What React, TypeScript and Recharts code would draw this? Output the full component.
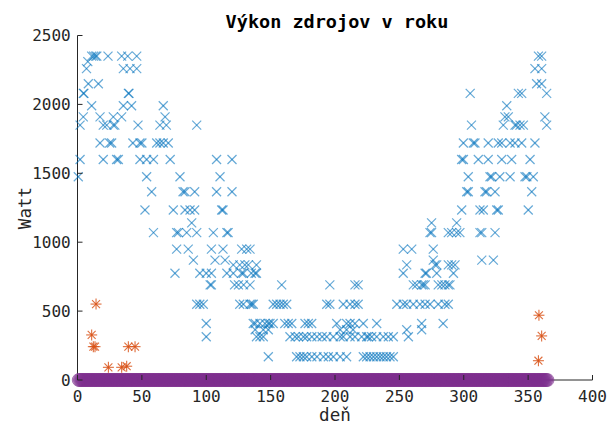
import React from 'react';
import { ScatterChart, Scatter, XAxis, YAxis } from 'recharts';

// ---- tick labels ----
const xTicks = [0, 50, 100, 150, 200, 250, 300, 350, 400];
const yTicks = [0, 500, 1000, 1500, 2000, 2500];

// ---- blue series: [day, watt] ----
const blueWinterStart: [number, number][] = [
  [0.6, 1475], [2, 1600], [2, 1850], [4.5, 1910], [4.5, 2080], [5, 2080], [7, 2260], [8, 2310],
  [8.4, 2150], [11, 1990], [11, 2350], [12.5, 2350], [14, 2350], [15, 2350], [16.2, 2150],
  [17.5, 1910], [17.5, 1720], [20, 1850], [20, 1600], [22.7, 1850], [23.7, 2350], [25, 1720],
  [26.5, 1720], [27.8, 1910], [27.8, 1850], [29, 1850], [30.4, 1600], [31.7, 1600], [34.3, 2350],
  [34.3, 1910], [35.6, 2260], [35.6, 1990], [39, 2350], [39.5, 2080], [40, 2080], [40.8, 2260],
  [42, 1990], [43, 1720], [46, 2350], [46, 2260], [47, 1850], [48.5, 1720], [48.5, 1600],
  [50, 1720], [52.4, 1234], [53.7, 1600], [53.7, 1475], [57.6, 1366], [59, 1600], [59, 1070],
  [61.5, 1720], [64, 1850], [64, 1720], [66.6, 1990], [66.6, 1720], [68, 1910], [69, 1850],
  [70.5, 1720], [72, 1600],
];

const blueSpring: [number, number][] = [
  [74.4, 1234], [75.7, 775], [77, 1070], [77, 950], [78.3, 1070], [79.6, 1475], [82, 1366],
  [83.5, 1366], [83.5, 1234], [84.8, 1070], [86, 950], [87.4, 1234], [88.7, 1140], [90, 870],
  [91, 1366], [91, 1234], [92.6, 1850], [92.6, 1070], [92.6, 550], [95, 775], [95, 550],
  [97.7, 550], [100, 775], [100, 410], [100, 314], [103, 690], [104, 950], [104, 775], [104, 690],
  [105.5, 1070], [106.8, 870], [108, 1600], [108, 1366], [110.7, 1475], [112, 1234], [113, 1234],
  [113, 950], [114.6, 870], [116, 1070], [116, 775], [117, 1070], [120, 1600], [120, 1366],
  [121, 835], [121, 775], [122, 690], [125, 690], [126, 835], [126, 550], [127.5, 950],
  [127.5, 775], [128.8, 775], [128.8, 550], [129, 690], [130, 835], [131.4, 950], [132.7, 835],
  [134, 950], [134, 690], [134, 550], [135, 775], [135.3, 550], [136.5, 550], [136.5, 410],
  [137.9, 775], [138, 410], [138, 365], [139, 835], [139, 775], [139, 314],
];

const blueSummer: [number, number][] = [
  [141.7, 410], [141.7, 314], [144.3, 314], [144.3, 365], [145.6, 410], [148.2, 410], [148.2, 365],
  [148.2, 169], [149.5, 410], [152, 550], [152, 410], [154.7, 550], [157.3, 550], [158.6, 690],
  [159.8, 550], [161, 410], [162.5, 550], [163.7, 410], [165, 314], [166.4, 410], [169, 314],
  [170.2, 169], [171.6, 314], [172.8, 169], [175.4, 169], [175.5, 314], [176.7, 410], [178, 314],
  [178, 169], [179.3, 410], [181.9, 410], [182, 314], [182, 169], [186, 314], [186, 169],
  [190, 314], [191, 169], [193.6, 550], [193.6, 314], [194.8, 169], [196, 690], [196, 550],
  [198.7, 314], [198.7, 169], [201.3, 410], [204, 365], [204, 314], [204, 169], [206.4, 550],
  [206.4, 314], [209, 410], [209, 365], [209, 169], [211.7, 550], [211.7, 410], [211.7, 314],
  [214, 365], [215.5, 690], [215.5, 550], [215.5, 410], [215.5, 314], [218, 690], [218, 550],
  [220.7, 314], [222, 410], [222, 169], [224.6, 314], [224.6, 169], [225.8, 314], [227.2, 169],
  [228.5, 314], [229.8, 169], [232.4, 410], [232.4, 314], [232.4, 169], [235, 169], [237.5, 314],
  [237.5, 169], [240, 169], [241.4, 314], [242.7, 169], [245.3, 314], [245.3, 169], [248, 550],
  [253, 950], [253, 775], [253, 550], [255.7, 835], [255.7, 550], [255.7, 365], [257, 314],
  [259.6, 950], [260.8, 690], [260.8, 550], [263.4, 690], [266, 550], [267.3, 410], [267.3, 365],
  [267.3, 690],
];

const blueAutumn: [number, number][] = [
  [268.6, 690], [270, 690], [270, 775], [270, 550], [271, 775], [273.8, 1070], [273.8, 550],
  [275, 1140], [275, 1070], [276.3, 950], [276.3, 870], [277.7, 835], [279, 835], [279, 775],
  [280.2, 690], [280.2, 550], [283, 690], [284, 410], [285.4, 690], [285.4, 550], [288, 1070],
  [288, 835], [288, 690], [288, 550], [289.3, 690], [290.6, 1070], [290.6, 835], [292, 775],
  [293.2, 835], [294.5, 1140], [294.5, 1070], [297, 1070], [298.4, 1600], [298.4, 1234],
  [299.7, 1720], [299.7, 1600], [302.3, 1366], [303.5, 1475], [303.5, 1366], [305, 2080],
  [306, 1850], [307.4, 1720], [308.7, 1720], [311.3, 1600], [312.6, 1234], [312.6, 1070],
  [314, 1070], [314, 870], [315.2, 1234], [316.5, 1366], [317.8, 1366], [319, 1720], [319, 1600],
  [320.4, 1475], [321.7, 1475], [323, 870], [324.3, 1366], [324.3, 1070], [325.6, 1234],
  [326.8, 1720], [326.8, 1234], [328, 1475], [329.5, 1720], [329.5, 1600], [330.7, 1850],
  [332, 1910], [333.4, 1990], [334.6, 1910], [336, 1720], [336, 1475], [337.2, 1600],
  [339.8, 1850], [339.8, 1720], [341, 1850], [342.4, 2080], [343.7, 1850], [345, 2080],
  [345, 1720], [346.3, 1850], [347.6, 1475], [349, 1475], [350.1, 1234], [351.5, 1600],
  [352.8, 1366], [354, 1475], [355.3, 2260], [355.3, 1720], [356.6, 2150], [358, 2350],
  [360.5, 2350], [360.5, 2260], [360.5, 2150], [363, 1910], [364.4, 2080], [364.4, 1850],
];

// ---- orange series: [day, watt] ----
const orangePoints: [number, number][] = [
  [14.4, 551], [11, 327], [12.3, 242], [13.6, 242], [24, 92], [34.3, 92], [38.2, 100],
  [39.5, 242], [44.7, 242], [358.4, 470], [360.5, 320], [358, 140],
];

// ---- purple series: every day of the year at 0 W ----
const yearDays: number[] = Array.from({ length: 365 }, (_, i) => i + 1);
const zeroWatt = 0;

const FONT = '"DejaVu Sans Mono", monospace';
const AXIS = '#262626';

const toPoints = (pairs: [number, number][]) => pairs.map(([day, watt]) => ({ day, watt }));

const blueData = toPoints([...blueWinterStart, ...blueSpring, ...blueSummer, ...blueAutumn]);
const orangeData = toPoints(orangePoints);
const purpleData = yearDays.map((day) => ({ day, watt: zeroWatt }));

const XMark = (props: any) => {
  const { cx, cy } = props;
  const r = 4.5;
  return (
    <g stroke="#0072BD" strokeOpacity={0.6} strokeWidth={1.2}>
      <line x1={cx - r} y1={cy - r} x2={cx + r} y2={cy + r} />
      <line x1={cx - r} y1={cy + r} x2={cx + r} y2={cy - r} />
    </g>
  );
};

const Asterisk = (props: any) => {
  const { cx, cy } = props;
  const r = 5.5;
  const d = r * 0.72;
  return (
    <g stroke="#D95319" strokeOpacity={0.85} strokeWidth={1.1}>
      <line x1={cx - r} y1={cy} x2={cx + r} y2={cy} />
      <line x1={cx} y1={cy - r} x2={cx} y2={cy + r} />
      <line x1={cx - d} y1={cy - d} x2={cx + d} y2={cy + d} />
      <line x1={cx - d} y1={cy + d} x2={cx + d} y2={cy - d} />
    </g>
  );
};

const Circle = (props: any) => {
  const { cx, cy } = props;
  return (
    <circle cx={cx} cy={cy} r={6.5} fill="#7E2F8E" fillOpacity={0.4} stroke="#7E2F8E" strokeOpacity={0.6} strokeWidth={1} />
  );
};

const XTick = (props: any) => {
  const { x, y, payload } = props;
  return (
    <g>
      <line x1={x} y1={y} x2={x} y2={y - 5} stroke={AXIS} strokeWidth={1} />
      <text x={x} y={y + 21.5} textAnchor="middle" fontFamily={FONT} fontSize={16} fill={AXIS}>
        {payload.value}
      </text>
    </g>
  );
};

const YTick = (props: any) => {
  const { x, y, payload } = props;
  return (
    <g>
      <line x1={x} y1={y} x2={x + 5} y2={y} stroke={AXIS} strokeWidth={1} />
      <text x={x - 6.8} y={y + 5.8} textAnchor="end" fontFamily={FONT} fontSize={16} fill={AXIS}>
        {payload.value}
      </text>
    </g>
  );
};

export default function App() {
  return (
    <div style={{ position: 'absolute', left: 0, top: 0, width: 607, height: 425, background: '#fff' }}>
      <ScatterChart width={607} height={425} margin={{ top: 35.5, right: 14.5, bottom: 0, left: 0 }}>
        <XAxis
          type="number"
          dataKey="day"
          domain={[0, 400]}
          ticks={xTicks}
          interval={0}
          height={45}
          tickSize={0}
          tickMargin={0}
          tick={<XTick />}
          axisLine={{ stroke: AXIS, strokeWidth: 1 }}
          tickLine={false}
        />
        <YAxis
          type="number"
          dataKey="watt"
          domain={[0, 2500]}
          ticks={yTicks}
          interval={0}
          width={77.5}
          tickSize={0}
          tickMargin={0}
          tick={<YTick />}
          axisLine={{ stroke: AXIS, strokeWidth: 1 }}
          tickLine={false}
        />
        <Scatter data={blueData} shape={XMark} isAnimationActive={false} />
        <Scatter data={orangeData} shape={Asterisk} isAnimationActive={false} />
        <Scatter data={purpleData} shape={Circle} isAnimationActive={false} />
      </ScatterChart>
      <svg
        width={607}
        height={425}
        style={{ position: 'absolute', left: 0, top: 0, pointerEvents: 'none' }}
      >
        <text x={337} y={28.3} textAnchor="middle" fontFamily={FONT} fontSize={18.5} fontWeight="bold" fill="#000">
          Výkon zdrojov v roku
        </text>
        <text x={335} y={421} textAnchor="middle" fontFamily={FONT} fontSize={17.6} fill={AXIS}>
          deň
        </text>
        <text
          x={0}
          y={0}
          transform="translate(30.5,208) rotate(-90)"
          textAnchor="middle"
          fontFamily={FONT}
          fontSize={17.6}
          fill={AXIS}
        >
          Watt
        </text>
      </svg>
    </div>
  );
}
